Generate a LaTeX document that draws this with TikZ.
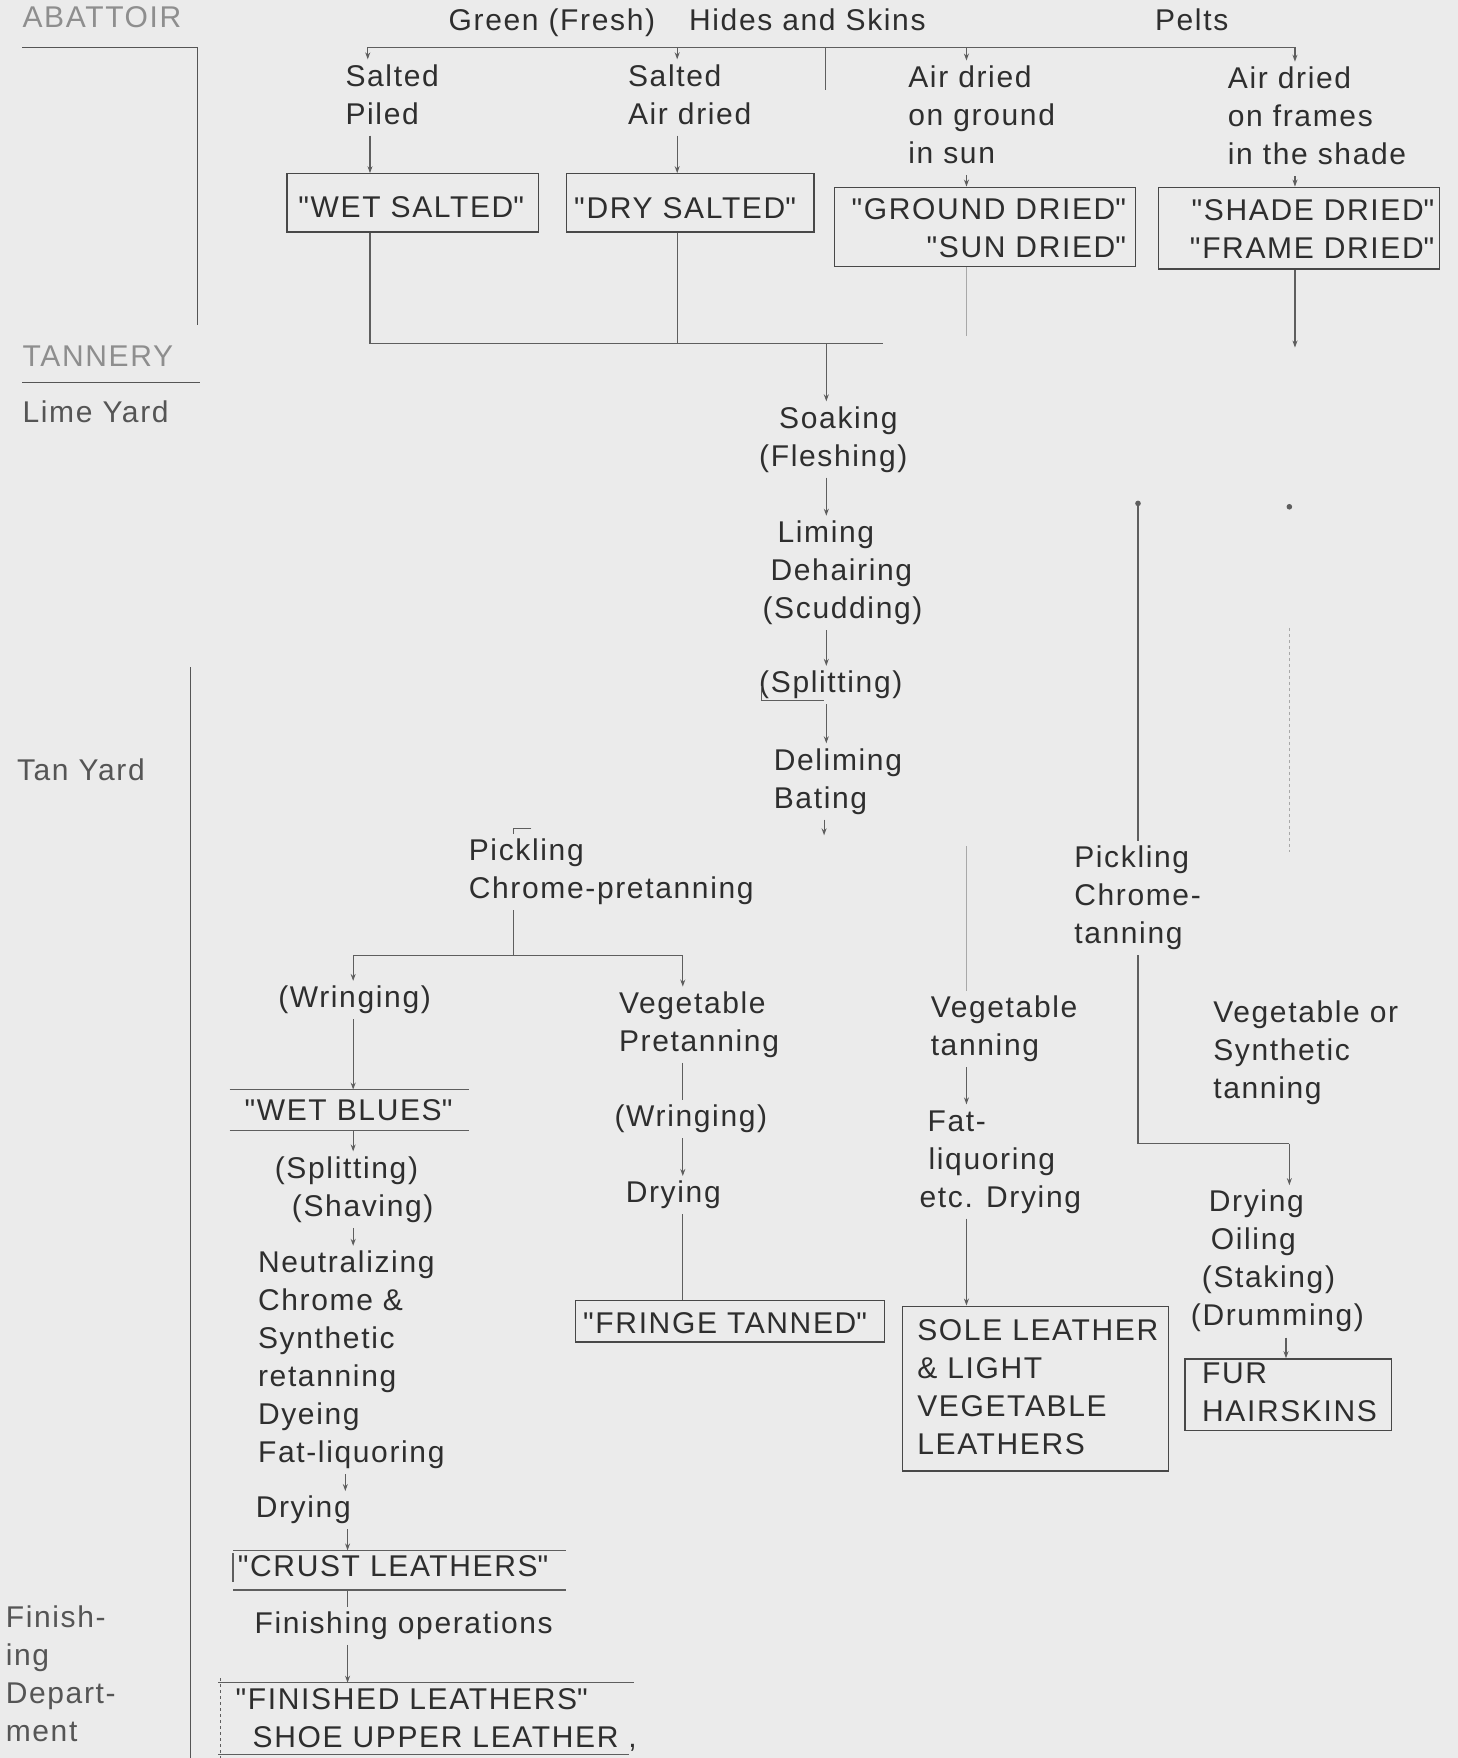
\documentclass[tikz,border=0pt]{standalone}
\usepackage{fontspec}
\setmainfont{Liberation Sans}[LetterSpace=5.5]
\usetikzlibrary{arrows.meta}
\definecolor{bgc}{HTML}{EBEBEB}
\definecolor{ink}{HTML}{2E2E2E}
\definecolor{palec}{HTML}{8E8E8E}
\definecolor{midc}{HTML}{555555}
\definecolor{linec}{HTML}{484848}
\definecolor{linec2}{HTML}{5E5E5E}
\definecolor{lfaint}{HTML}{A8A8A8}
\newcommand\diafont{\fontsize{30}{38}\selectfont}
\newcommand\unitD{1.1215pt}
\newcommand\dq{\XeTeXglyph\XeTeXcharglyph"22\relax\kern1.65pt\relax}
\begin{document}
\begin{tikzpicture}[x=1.1215pt,y=-1.1215pt,
  txt/.style={font=\diafont, text=ink, align=left, inner sep=0pt, anchor=west},
  txtr/.style={txt, align=right, anchor=east},
  boxn/.style={draw=linec, line width=1.3pt, inner sep=0pt},
  openbox/.style={inner sep=0pt},
  conn/.style={draw=linec2, line width=1.1pt},
  arr/.style={conn, -{Stealth[length=7pt,width=5pt]}},
  faint/.style={draw=lfaint, line width=0.9pt}]
\useasboundingbox (0,0) rectangle (1300,1568);
\fill[bgc] (0,0) rectangle (1300,1568);

% ---------- header ----------
\node[txt, text=palec] (abattoir) at (20,18) {\strut ABATTOIR};
\node[txt] (green) at (400,20) {\strut Green (Fresh)\hspace{34pt}Hides and Skins};
\node[txt] (pelts) at (1030,20) {\strut Pelts};
\node[txt] (col1) at (308,87) {\strut Salted\\\strut Piled};
\node[txt] (col2) at (560,87) {\strut Salted\\\strut Air dried};
\node[txt] (col3) at (810,105) {\strut Air dried\\\strut on ground\\\strut in sun};
\node[txt] (col4) at (1095,106) {\strut Air dried\\\strut on frames\\\strut in the shade};

% ---------- first boxes ----------
\node[boxn, minimum width=224*\unitD, minimum height=52*\unitD] (wetsalted) at (368,181) {};
\node[txt] (wetsaltedT) at (266,187) {\strut\dq WET SALTED\dq};
\node[boxn, minimum width=221*\unitD, minimum height=52*\unitD] (drysalted) at (615.5,181) {};
\node[txt] (drysaltedT) at (512,188) {\strut\dq DRY SALTED\dq};
\node[boxn, minimum width=269*\unitD, minimum height=71*\unitD] (ground) at (878.5,202.5) {};
\node[txtr] (groundT) at (1006,206) {\strut\dq GROUND DRIED\dq\\\strut\dq SUN DRIED\dq};
\node[boxn, minimum width=251*\unitD, minimum height=73*\unitD] (shade) at (1158.5,203.5) {};
\node[txtr] (shadeT) at (1281,207) {\strut\dq SHADE DRIED\dq\\\strut\dq FRAME DRIED\dq};

% ---------- left labels ----------
\node[txt, text=palec] (tannery) at (20,320) {\strut TANNERY};
\node[txt, text=midc] (limeyard) at (20,370) {\strut Lime Yard};
\node[txt, text=midc] (tanyard) at (15,689) {\strut Tan Yard};
\node[txt, text=midc] (finishdept) at (5,1496) {\strut Finish-\\\strut ing\\\strut Depart-\\\strut ment};

% ---------- trunk ----------
\node[txt] (soak) at (677,392) {\strut\hspace*{20pt}Soaking\\\strut (Fleshing)};
\node[txt] (liming) at (680,511) {\strut\hspace*{15pt}Liming\\\strut\hspace*{8pt}Dehairing\\\strut (Scudding)};
\node[txt] (split) at (677,611) {\strut (Splitting)};
\node[txt] (delim) at (690,697) {\strut Deliming\\\strut Bating};

% ---------- left branch ----------
\node[txt] (pick1) at (418,778) {\strut Pickling\\\strut Chrome-pretanning};
\node[txt] (wring1) at (248,892) {\strut (Wringing)};
\node[openbox, minimum width=213*\unitD, minimum height=36*\unitD] (wetbluesbox) at (311.5,990) {};
\node[txt] (wetbluesT) at (218,993) {\strut\dq WET BLUES\dq};
\node[txt] (splitshave) at (245,1061) {\strut (Splitting)\\\strut\hspace*{17pt}(Shaving)};
\node[txt] (neutral) at (230,1213) {\strut Neutralizing\\\strut Chrome \&\\\strut Synthetic\\\strut retanning\\\strut Dyeing\\\strut Fat-liquoring};
\node[txt] (drying1) at (228,1347) {\strut Drying};
\node[openbox, minimum width=297*\unitD, minimum height=35*\unitD] (crustbox) at (356.5,1400.5) {};
\node[txt] (crustT) at (212,1399) {\strut\dq CRUST LEATHERS\dq};
\node[txt] (finops) at (227,1450) {\strut Finishing operations};
\node[openbox, minimum width=370*\unitD, minimum height=64*\unitD] (finbox) at (380,1533) {};
\node[txt] (finT) at (210,1535) {\strut\dq FINISHED LEATHERS\dq\\\strut\hspace*{17pt}SHOE UPPER LEATHER ,};

\node[txt] (vegpre) at (552,914) {\strut Vegetable\\\strut Pretanning};
\node[txt] (wring2) at (548,998) {\strut (Wringing)};
\node[txt] (drying2) at (558,1066) {\strut Drying};
\node[boxn, minimum width=276*\unitD, minimum height=37*\unitD] (fringe) at (651,1178.5) {};
\node[txt] (fringeT) at (520,1183) {\strut\dq FRINGE TANNED\dq};

% ---------- right branches ----------
\node[txt] (pick2) at (958,801) {\strut Pickling\\\strut Chrome-\\\strut tanning};
\node[txt] (vegtan) at (830,918) {\strut Vegetable\\\strut tanning};
\node[txt] (fatliq) at (820,1036) {\strut\hspace*{8pt}Fat-\\\strut\hspace*{9pt}liquoring\\\strut etc. Drying};
\node[boxn, minimum width=237*\unitD, minimum height=147*\unitD] (sole) at (923.5,1238.5) {};
\node[txt] (soleT) at (818,1240) {\strut SOLE LEATHER\\\strut \& LIGHT\\\strut VEGETABLE\\\strut LEATHERS};
\node[txt] (vegsyn) at (1082,939) {\strut Vegetable or\\\strut Synthetic\\\strut tanning};
\node[txt] (dryoil) at (1062,1125) {\strut\hspace*{18pt}Drying\\\strut\hspace*{20pt}Oiling\\\strut\hspace*{11pt}(Staking)\\\strut (Drumming)};
\node[boxn, minimum width=184*\unitD, minimum height=64*\unitD] (fur) at (1149,1244) {};
\node[txt] (furT) at (1072,1244) {\strut FUR\\\strut HAIRSKINS};

% ---------- column coordinates ----------
\coordinate (x1) at (330,0);
\coordinate (x2) at (604,0);
\coordinate (x4) at (862,0);
\coordinate (x5) at (1155,0);
\coordinate (xm) at (737,0);
\coordinate (xr1) at (1015,0);
\coordinate (xr2) at (1150,0);
\coordinate (xf) at (1147,0);
\coordinate (xl) at (315,0);
\coordinate (xv) at (609,0);
\coordinate (xd) at (308,0);
\coordinate (xlb) at (310,0);
\coordinate (xp) at (458,0);

% ---------- left section rules ----------
\coordinate (abL) at (20,42);
\coordinate (abR) at (176,42);
\coordinate (abB) at (176,290);
\draw[conn, draw=midc] (abL) -- (abR) -- (abB);
\coordinate (tnL) at (20,341);
\coordinate (tnR) at (178,341);
\draw[conn, draw=midc] (tnL) -- (tnR);
\coordinate (vlT) at (170,595);
\coordinate (vlB) at (170,1568);
\draw[conn, draw=midc] (vlT) -- (vlB);

% ---------- top bracket ----------
\coordinate (tl) at (328,42);
\coordinate (tr) at (1155,42);
\coordinate (tm) at (736,42);
\coordinate (tmB) at (736,80);
\draw[conn] (tl) -- (tr);
\draw[arr] (tl) -- (tl |- col1.north);
\draw[arr] (x2 |- tl) -- (x2 |- col2.north);
\draw[conn] (tm) -- (tmB);
\draw[arr] (x4 |- tl) -- (x4 |- col3.north);
\draw[arr] (tr) -- (x5 |- col4.north);

\draw[arr] (x1 |- col1.south) -- (x1 |- wetsalted.north);
\draw[arr] (x2 |- col2.south) -- (x2 |- drysalted.north);
\draw[arr] (x4 |- col3.south) -- (x4 |- ground.north);
\draw[arr] (x5 |- col4.south) -- (x5 |- shade.north);

% ---------- below first boxes ----------
\coordinate (hb1) at (330,306);
\coordinate (hb2) at (788,306);
\coordinate (gB) at (862,300);
\coordinate (sB) at (1155,310);
\draw[conn] (x1 |- wetsalted.south) -- (hb1) -- (hb2);
\draw[conn] (x2 |- drysalted.south) -- (x2 |- hb1);
\draw[faint] (x4 |- ground.south) -- (gB);
\draw[arr] (x5 |- shade.south) -- (sB);
\draw[arr] (xm |- hb1) -- (xm |- soak.north);

% ---------- trunk connectors ----------
\draw[arr] (xm |- soak.south) -- (xm |- liming.north);
\draw[arr] (xm |- liming.south) -- (xm |- split.north);
\draw[conn] ([shift={(2,1)}]split.west) |- ([shift={(58,14)}]split.west);
\draw[arr] (xm |- split.south) -- (xm |- delim.north);
\coordinate (batB) at (735,745);
\draw[arr] (delim.south -| batB) -- (batB);

% ---------- right verticals ----------
\coordinate (r1top) at (1015,449);
\fill[linec2] (r1top) circle (2.5);
\draw[conn] (r1top) -- (xr1 |- pick2.north);
\coordinate (rj) at (1015,1020);
\coordinate (rk) at (1150,1020);
\draw[conn] (xr1 |- pick2.south) -- (rj) -- (rk);
\draw[arr] (rk) -- (xr2 |- dryoil.north);
\coordinate (r2top) at (1150,452);
\fill[linec2] (r2top) circle (2.5);
\coordinate (r2a) at (1150,560);
\coordinate (r2b) at (1150,760);
\draw[faint, dashed] (r2a) -- (r2b);

\coordinate (v1) at (862,755);
\draw[faint] (v1) -- (x4 |- vegtan.north);
\draw[arr] (x4 |- vegtan.south) -- (x4 |- fatliq.north);
\draw[arr] (x4 |- fatliq.south) -- (x4 |- sole.north);
\draw[arr] (xf |- dryoil.south) -- (xf |- fur.north);

% ---------- left branch connectors ----------
\coordinate (pt) at (458,739);
\coordinate (ptR) at (474,739);
\draw[conn] (ptR) -- (pt) -- (xp |- pick1.north);
\coordinate (lbl) at (315,852);
\coordinate (lbr) at (609,852);
\draw[conn] (xp |- pick1.south) -- (xp |- lbl);
\draw[conn] (lbl) -- (lbr);
\draw[arr] (lbl) -- (xl |- wring1.north);
\draw[arr] (xl |- wring1.south) -- (xl |- wetbluesbox.north);
\draw[conn] (wetbluesbox.north west) -- (wetbluesbox.north east);
\draw[conn] (wetbluesbox.south west) -- (wetbluesbox.south east);
\draw[arr] (xl |- wetbluesbox.south) -- (xl |- splitshave.north);
\draw[arr] (xl |- splitshave.south) -- (xl |- neutral.north);
\draw[arr] (xd |- neutral.south) -- (xd |- drying1.north);
\draw[arr] (xlb |- drying1.south) -- (xlb |- crustbox.north);
\draw[conn] (crustbox.north west) -- (crustbox.north east);
\draw[conn] (crustbox.south west) -- (crustbox.south east);
\draw[conn] ([yshift=-3]crustbox.north west) -- ([yshift=8]crustbox.south west);
\draw[conn] (xlb |- crustbox.south) -- (xlb |- finops.north);
\draw[arr] (xlb |- finops.south) -- (xlb |- finbox.north);
\draw[conn] (finbox.north west) -- (finbox.north east);
\draw[conn] (finbox.south west) -- ([xshift=-5]finbox.south east);
\draw[conn, dashed] ([shift={(2,-4)}]finbox.north west) -- ([shift={(2,4)}]finbox.south west);

\draw[arr] (lbr) -- (xv |- vegpre.north);
\draw[conn] (xv |- vegpre.south) -- (xv |- wring2.north);
\draw[arr] (xv |- wring2.south) -- (xv |- drying2.north);
\draw[conn] (xv |- drying2.south) -- (xv |- fringe.north);
\end{tikzpicture}
\end{document}
